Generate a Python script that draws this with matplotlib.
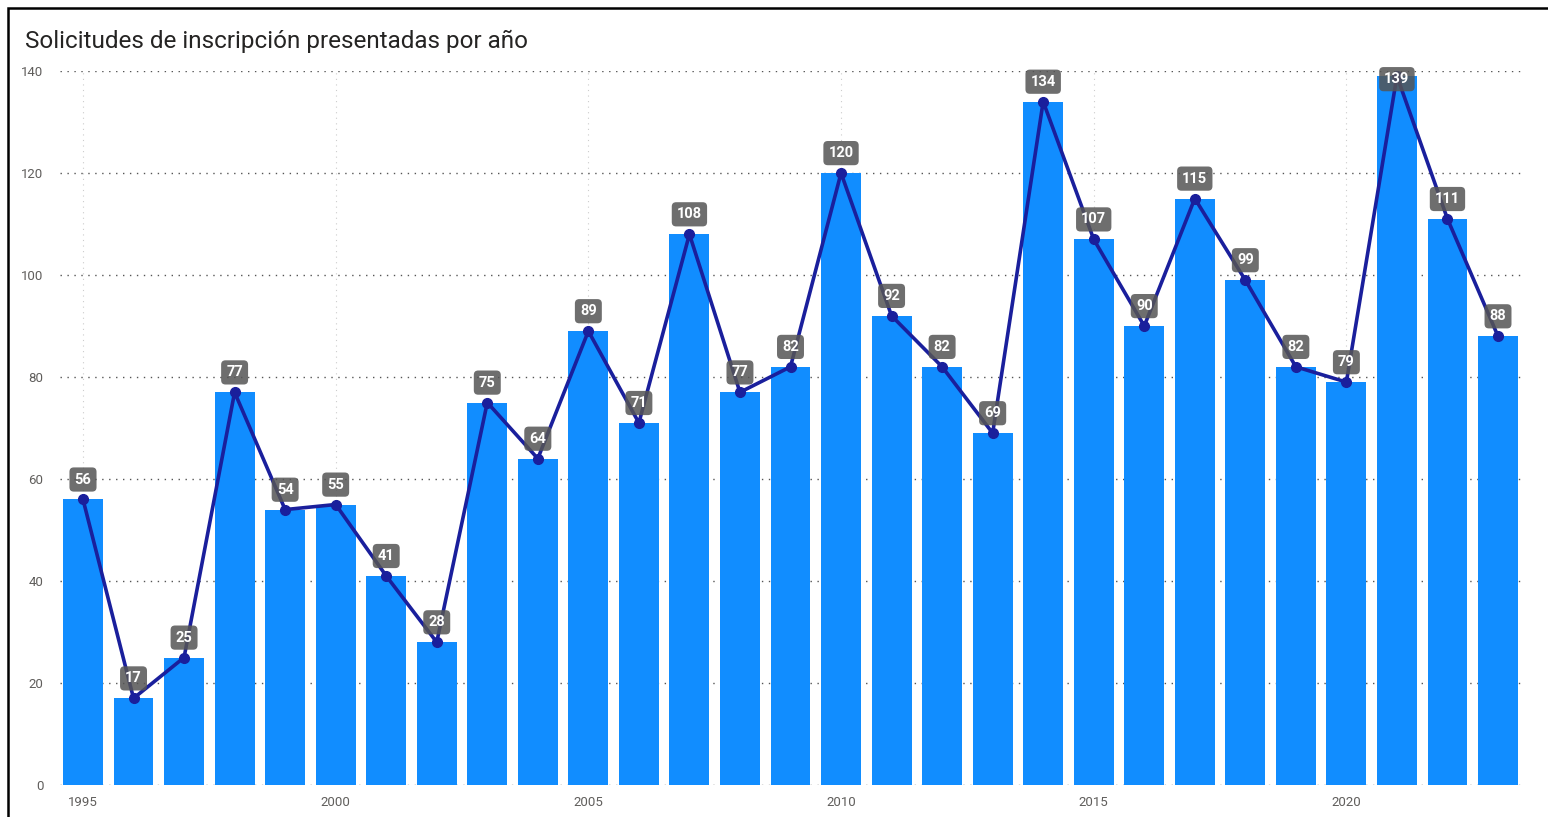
import matplotlib
matplotlib.use("Agg")
import matplotlib.pyplot as plt
from matplotlib.patches import Rectangle

# Datos
anios = list(range(1995, 2024))
solicitudes = [56, 17, 25, 77, 54, 55, 41, 28, 75, 64, 89, 71, 108, 77, 82,
               120, 92, 82, 69, 134, 107, 90, 115, 99, 82, 79, 139, 111, 88]
ticks_y = [0, 20, 40, 60, 80, 100, 120, 140]
ticks_x = [1995, 2000, 2005, 2010, 2015, 2020]

plt.rcParams["font.family"] = ["Roboto", "DejaVu Sans"]

W, H = 1548, 817
fig = plt.figure(figsize=(W / 100, H / 100), dpi=100)

# Marco negro
fig.patches.append(Rectangle((8 / W, -0.05), 1.1, (H - 8) / H + 0.05,
                             transform=fig.transFigure, fill=False,
                             edgecolor="black", linewidth=1.8))

fig.text(25 / W, 1 - 41 / H, "Solicitudes de inscripción presentadas por año",
         fontsize=17.5, color="#252423", va="center", ha="left")

ax = fig.add_axes([60 / W, 1 - 785 / H, (1521 - 60) / W, (785 - 71) / H])

ax.bar(anios, solicitudes, width=0.79, color="#118DFF", zorder=2)
ax.plot(anios, solicitudes, color="#1a1f9c", linewidth=2.6, marker="o",
        markersize=7, zorder=3)

for x, v in zip(anios, solicitudes):
    y = min(v + 3.9, 138.4)
    ax.text(x, y, str(v), ha="center", va="center", fontsize=10.5,
            fontweight="bold", color="white", zorder=5, clip_on=False,
            bbox=dict(boxstyle="round,pad=0.35,rounding_size=0.3",
                      facecolor="#555555", alpha=0.85, edgecolor="none"))

ax.set_xlim(1994.545, 2023.455)
ax.set_ylim(0, 140)
ax.set_yticks(ticks_y)
ax.set_xticks(ticks_x)
ax.tick_params(axis="both", length=0, labelsize=9.5, colors="#605e5c")
ax.tick_params(axis="y", pad=12)
ax.tick_params(axis="x", pad=8)

ax.grid(axis="y", linestyle=(0, (1, 4)), color="#555555", linewidth=1.0, zorder=0)
ax.grid(axis="x", linestyle=(0, (1, 4)), color="#cccccc", linewidth=0.8, zorder=0)
for s in ax.spines.values():
    s.set_visible(False)

fig.savefig("out.png", dpi=100)
